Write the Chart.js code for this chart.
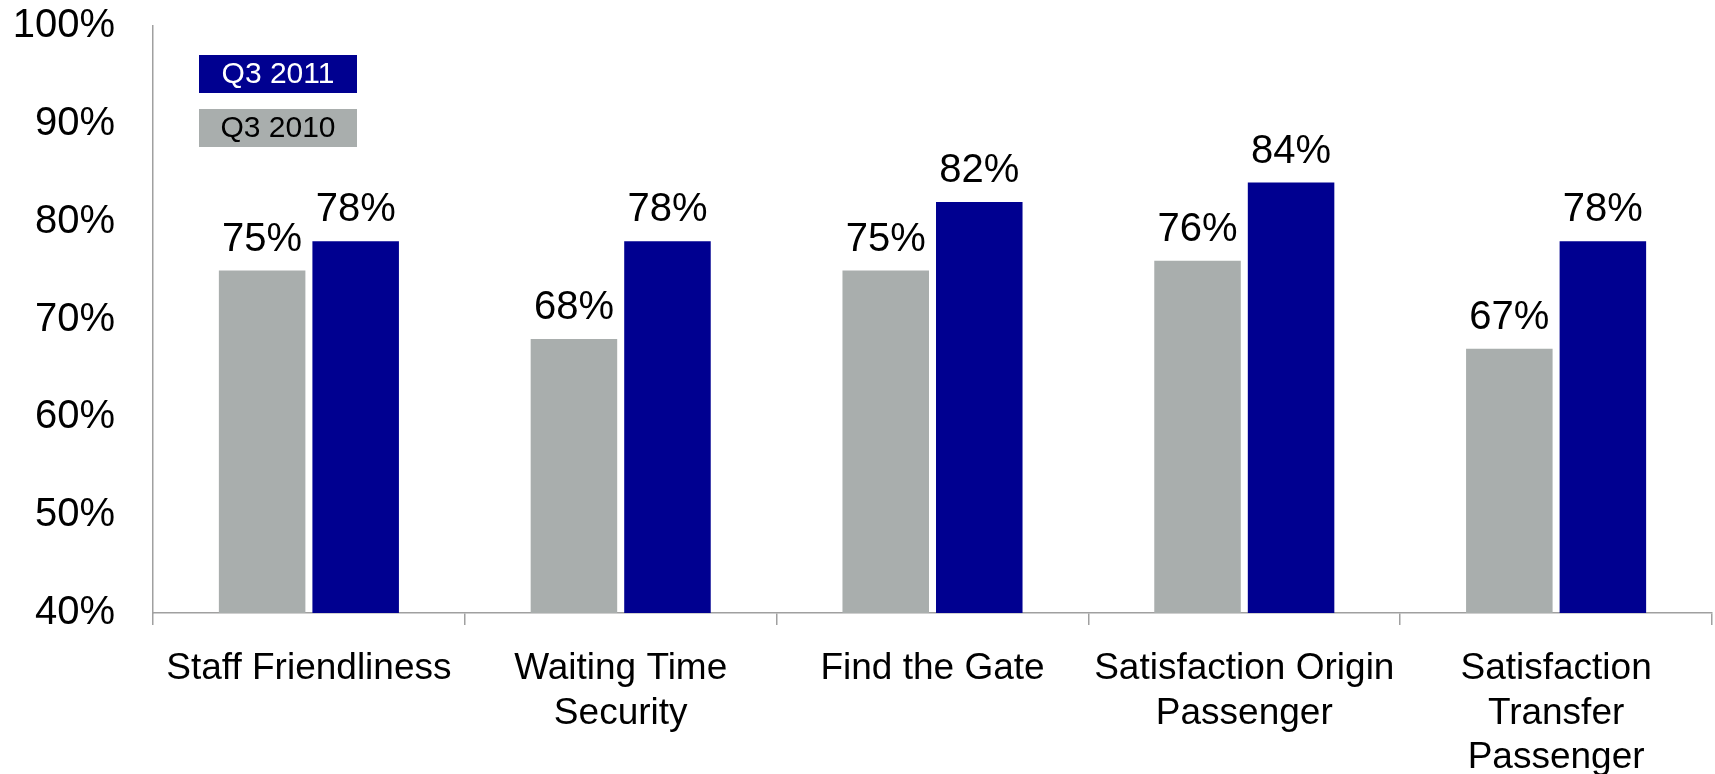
<!DOCTYPE html>
<html>
<head>
<meta charset="utf-8">
<title>Passenger satisfaction Q3 2011 vs Q3 2010</title>
<script src="https://cdn.jsdelivr.net/npm/chart.js@4/dist/chart.umd.min.js"></script>
<style>
    html, body { margin: 0; padding: 0; background: #ffffff; }
    #wrap { width: 1715px; height: 774px; position: relative; }
</style>
</head>
<body>
<div id="wrap"><canvas id="chart"></canvas></div>
<script>
const categories = [
    'Staff Friendliness',
    ['Waiting Time', 'Security'],
    'Find the Gate',
    ['Satisfaction Origin', 'Passenger'],
    ['Satisfaction', 'Transfer', 'Passenger']
];
const q3_2010 = [75, 68, 75, 76, 67];
const q3_2011 = [78, 78, 82, 84, 78];
const yTicks = [40, 50, 60, 70, 80, 90, 100];

const FONT = "'Liberation Sans', Arial, Helvetica, sans-serif";
const AXIS_COLOR = '#a0a0a0';

// value labels above each bar
const valueLabels = {
    id: 'valueLabels',
    afterDatasetsDraw(chart) {
        const ctx = chart.ctx;
        ctx.save();
        ctx.font = '40px ' + FONT;
        ctx.fillStyle = '#000000';
        ctx.textAlign = 'center';
        ctx.textBaseline = 'alphabetic';
        chart.data.datasets.forEach((ds, i) => {
            chart.getDatasetMeta(i).data.forEach((bar, j) => {
                ctx.fillText(ds.data[j] + '%', bar.x, bar.y - 20);
            });
        });
        ctx.restore();
    }
};

// boxed legend in the top-left corner, newest period first
const boxLegend = {
    id: 'boxLegend',
    afterDraw(chart) {
        const ctx = chart.ctx;
        const x = 199, w = 158, h = 38;
        const rows = [
            { ds: chart.data.datasets[1], y: 55, text: '#ffffff' },
            { ds: chart.data.datasets[0], y: 109, text: '#000000' }
        ];
        ctx.save();
        ctx.font = '30px ' + FONT;
        ctx.textAlign = 'center';
        ctx.textBaseline = 'middle';
        rows.forEach(r => {
            ctx.fillStyle = r.ds.backgroundColor;
            ctx.fillRect(x, r.y, w, h);
            ctx.fillStyle = r.text;
            ctx.fillText(r.ds.label, x + w / 2, r.y + h / 2 + 1);
        });
        ctx.restore();
    }
};

const ctx = document.getElementById('chart').getContext('2d');
const chart = new Chart(ctx, {
    type: 'bar',
    data: {
        labels: categories,
        datasets: [
            {
                label: 'Q3 2010',
                data: q3_2010,
                backgroundColor: '#a9aead',
                categoryPercentage: 0.6,
                barPercentage: 0.925
            },
            {
                label: 'Q3 2011',
                data: q3_2011,
                backgroundColor: '#000090',
                categoryPercentage: 0.6,
                barPercentage: 0.925
            }
        ]
    },
    options: {
        responsive: true,
        maintainAspectRatio: false,
        animation: false,
        layout: { padding: { top: 26, right: 3, left: 0, bottom: 0 } },
        plugins: {
            legend: { display: false },
            tooltip: { enabled: false }
        },
        scales: {
            x: {
                grid: {
                    display: true,
                    offset: true,
                    drawOnChartArea: false,
                    drawTicks: true,
                    tickLength: 12,
                    color: AXIS_COLOR,
                    lineWidth: 1.5
                },
                border: { display: true, color: AXIS_COLOR, width: 1.5 },
                ticks: {
                    color: '#000000',
                    padding: 22,
                    maxRotation: 0,
                    autoSkip: false,
                    font: { family: FONT, size: 37, lineHeight: 1.2 }
                },
                afterFit(scale) { scale.height = 161; }
            },
            y: {
                min: yTicks[0],
                max: yTicks[yTicks.length - 1],
                grid: { display: false, drawTicks: false },
                border: { display: true, color: AXIS_COLOR, width: 1.5 },
                afterBuildTicks(scale) {
                    scale.ticks = yTicks.map(v => ({ value: v }));
                },
                ticks: {
                    color: '#000000',
                    padding: 38,
                    // small line height keeps the top label from pushing the plot down
                    font: { family: FONT, size: 40, lineHeight: 0.1 },
                    callback: v => v + '%'
                },
                afterFit(scale) {
                    scale.width = 153;
                    scale.paddingTop = 0;
                    scale.paddingBottom = 0;
                }
            }
        }
    },
    plugins: [valueLabels, boxLegend]
});
</script>
</body>
</html>
